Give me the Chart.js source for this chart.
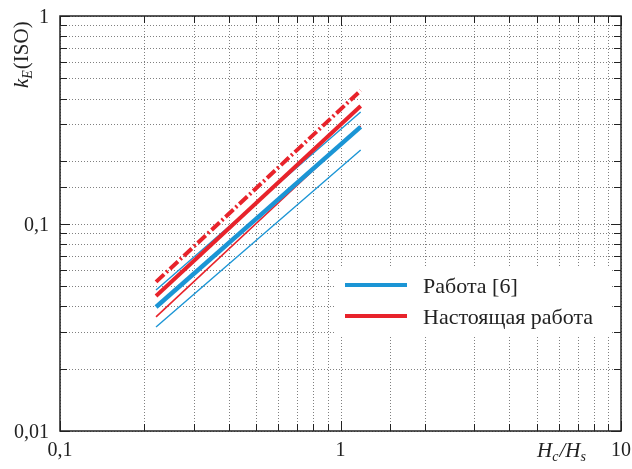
<!DOCTYPE html>
<html>
<head>
<meta charset="utf-8">
<script src="https://cdn.jsdelivr.net/npm/chart.js@4"></script>
<style>
  body { margin: 0; background: #fff; }
</style>
</head>
<body>
<canvas id="myChart" width="632" height="469"></canvas>
<script>
// данные графика
var xRange = [0.22, 1.18];
var ref6Thick = [0.0396, 0.292];
var ref6Upper = [0.0478, 0.3445];
var ref6Lower = [0.0317, 0.226];
var ourDash = [0.0523, 0.4375];
var ourThick = [0.0447, 0.368];
var ourThin = [0.0355, 0.295];

var xTicks = [0.1, 1, 10];
var xTickText = ['0,1', '1', '10'];
var yTicks = [0.01, 0.1, 1];
var yTickText = ['0,01', '0,1', '1'];
var legendText = ['Работа [6]', 'Настоящая работа'];

var blue = '#1b95d5';
var red = '#e8232b';

function pts(vals) {
    return xRange.map((x, i) => ({ x: x, y: vals[i] }))
}

function isMajor(v) {
    var l = Math.log10(v)
    return Math.abs(l - Math.round(l)) < 1e-6
}

var serif = '"Liberation Serif", "Times New Roman", serif';

// пунктирная сетка
var gridPlugin = {
    id: 'dotgrid',
    beforeDatasetsDraw(chart) {
        var ctx = chart.ctx
        var a = chart.chartArea
        var sx = chart.scales.x
        var sy = chart.scales.y
        ctx.save()
        ctx.strokeStyle = '#808080'
        ctx.lineWidth = 1
        ctx.setLineDash([1, 2])
        sx.ticks.forEach((t) => {
            var px = Math.round(sx.getPixelForValue(t.value)) + 0.5
            ctx.beginPath()
            ctx.moveTo(px, a.bottom); ctx.lineTo(px, a.top)
            ctx.stroke()
        })
        sy.ticks.forEach((t) => {
            var py = Math.round(sy.getPixelForValue(t.value)) + 0.5
            ctx.beginPath()
            ctx.moveTo(a.left, py); ctx.lineTo(a.right, py)
            ctx.stroke()
        })
        ctx.restore()
    }
}

var framePlugin = {
    id: 'frame',
    afterDraw(chart) {
        var ctx = chart.ctx
        var a = chart.chartArea
        var sx = chart.scales.x
        var sy = chart.scales.y
        ctx.save()
        ctx.strokeStyle = '#222'
        ctx.lineWidth = 1
        // засечки внутрь
        sx.ticks.forEach((t) => {
            var px = Math.round(sx.getPixelForValue(t.value)) + 0.5
            var len = isMajor(t.value) ? 10 : 7
            ctx.beginPath()
            ctx.moveTo(px, a.bottom); ctx.lineTo(px, a.bottom - len)
            ctx.moveTo(px, a.top); ctx.lineTo(px, a.top + len)
            ctx.stroke()
        })
        sy.ticks.forEach((t) => {
            var py = Math.round(sy.getPixelForValue(t.value)) + 0.5
            var len = isMajor(t.value) ? 10 : 7
            ctx.beginPath()
            ctx.moveTo(a.left, py); ctx.lineTo(a.left + len, py)
            ctx.moveTo(a.right, py); ctx.lineTo(a.right - len, py)
            ctx.stroke()
        })
        ctx.lineWidth = 1.5
        ctx.strokeRect(a.left, a.top, a.right - a.left, a.bottom - a.top)

        // подписи осей
        ctx.fillStyle = '#222'
        ctx.font = '20px ' + serif
        ctx.textAlign = 'center'
        ctx.textBaseline = 'alphabetic'
        xTicks.forEach((v, i) => {
            ctx.fillText(xTickText[i], sx.getPixelForValue(v), 456)
        })
        ctx.textAlign = 'right'
        yTicks.forEach((v, i) => {
            ctx.fillText(yTickText[i], a.left - 11, sy.getPixelForValue(v) + 7)
        })

        // H_c/H_s
        ctx.textAlign = 'left'
        var x0 = 537, y0 = 457
        ctx.font = 'italic 21px ' + serif
        ctx.fillText('H', x0, y0); x0 += ctx.measureText('H').width
        ctx.font = 'italic 14px ' + serif
        ctx.fillText('c', x0, y0 + 4); x0 += ctx.measureText('c').width + 1
        ctx.font = 'italic 21px ' + serif
        ctx.fillText('/H', x0, y0); x0 += ctx.measureText('/H').width
        ctx.font = 'italic 14px ' + serif
        ctx.fillText('s', x0, y0 + 4)

        // k_E(ISO)
        ctx.save()
        ctx.translate(28, 88)
        ctx.rotate(-Math.PI / 2)
        var t0 = 0
        ctx.font = 'italic 21px ' + serif
        ctx.fillText('k', t0, 0); t0 += ctx.measureText('k').width
        ctx.font = 'italic 14px ' + serif
        ctx.fillText('E', t0, 4); t0 += ctx.measureText('E').width + 1
        ctx.font = '21px ' + serif
        ctx.fillText('(ISO)', t0, 0)
        ctx.restore()

        // легенда
        ctx.fillStyle = '#fff'
        ctx.fillRect(336, 268, 276, 68)
        var legendColors = [blue, red]
        legendText.forEach((txt, i) => {
            var ly = 285 + i * 31
            ctx.strokeStyle = legendColors[i]
            ctx.lineWidth = 4
            ctx.beginPath()
            ctx.moveTo(345, ly); ctx.lineTo(407, ly)
            ctx.stroke()
            ctx.fillStyle = '#222'
            ctx.font = '22px ' + serif
            ctx.fillText(txt, 423, ly + 8)
        })
        ctx.restore()
    }
}

var ctx = document.getElementById('myChart').getContext('2d');
var myChart = new Chart(ctx, {
    type: 'scatter',
    data: {
        datasets: [
            { label: 'ourDash', data: pts(ourDash), borderColor: red, borderWidth: 4, borderDash: [11, 3, 2, 3] },
            { label: 'ourThick', data: pts(ourThick), borderColor: red, borderWidth: 4 },
            { label: 'ref6Upper', data: pts(ref6Upper), borderColor: blue, borderWidth: 1.4 },
            { label: 'ref6Thick', data: pts(ref6Thick), borderColor: blue, borderWidth: 4.5 },
            { label: 'ourThin', data: pts(ourThin), borderColor: red, borderWidth: 1.6 },
            { label: 'ref6Lower', data: pts(ref6Lower), borderColor: blue, borderWidth: 1.4 }
        ].map((d) => Object.assign(d, { showLine: true, pointRadius: 0, fill: false, borderCapStyle: 'butt' }))
    },
    options: {
        responsive: false,
        animation: false,
        devicePixelRatio: 1,
        layout: { padding: { left: 60, right: 11, top: 16, bottom: 38 } },
        plugins: { legend: { display: false }, tooltip: { enabled: false } },
        scales: {
            x: {
                type: 'logarithmic',
                min: 0.1,
                max: 10,
                ticks: { display: false },
                border: { display: false },
                grid: { display: false, drawTicks: false }
            },
            y: {
                type: 'logarithmic',
                min: 0.01,
                max: 1,
                ticks: { display: false },
                border: { display: false },
                grid: { display: false, drawTicks: false }
            }
        }
    },
    plugins: [gridPlugin, framePlugin]
});
</script>
</body>
</html>
